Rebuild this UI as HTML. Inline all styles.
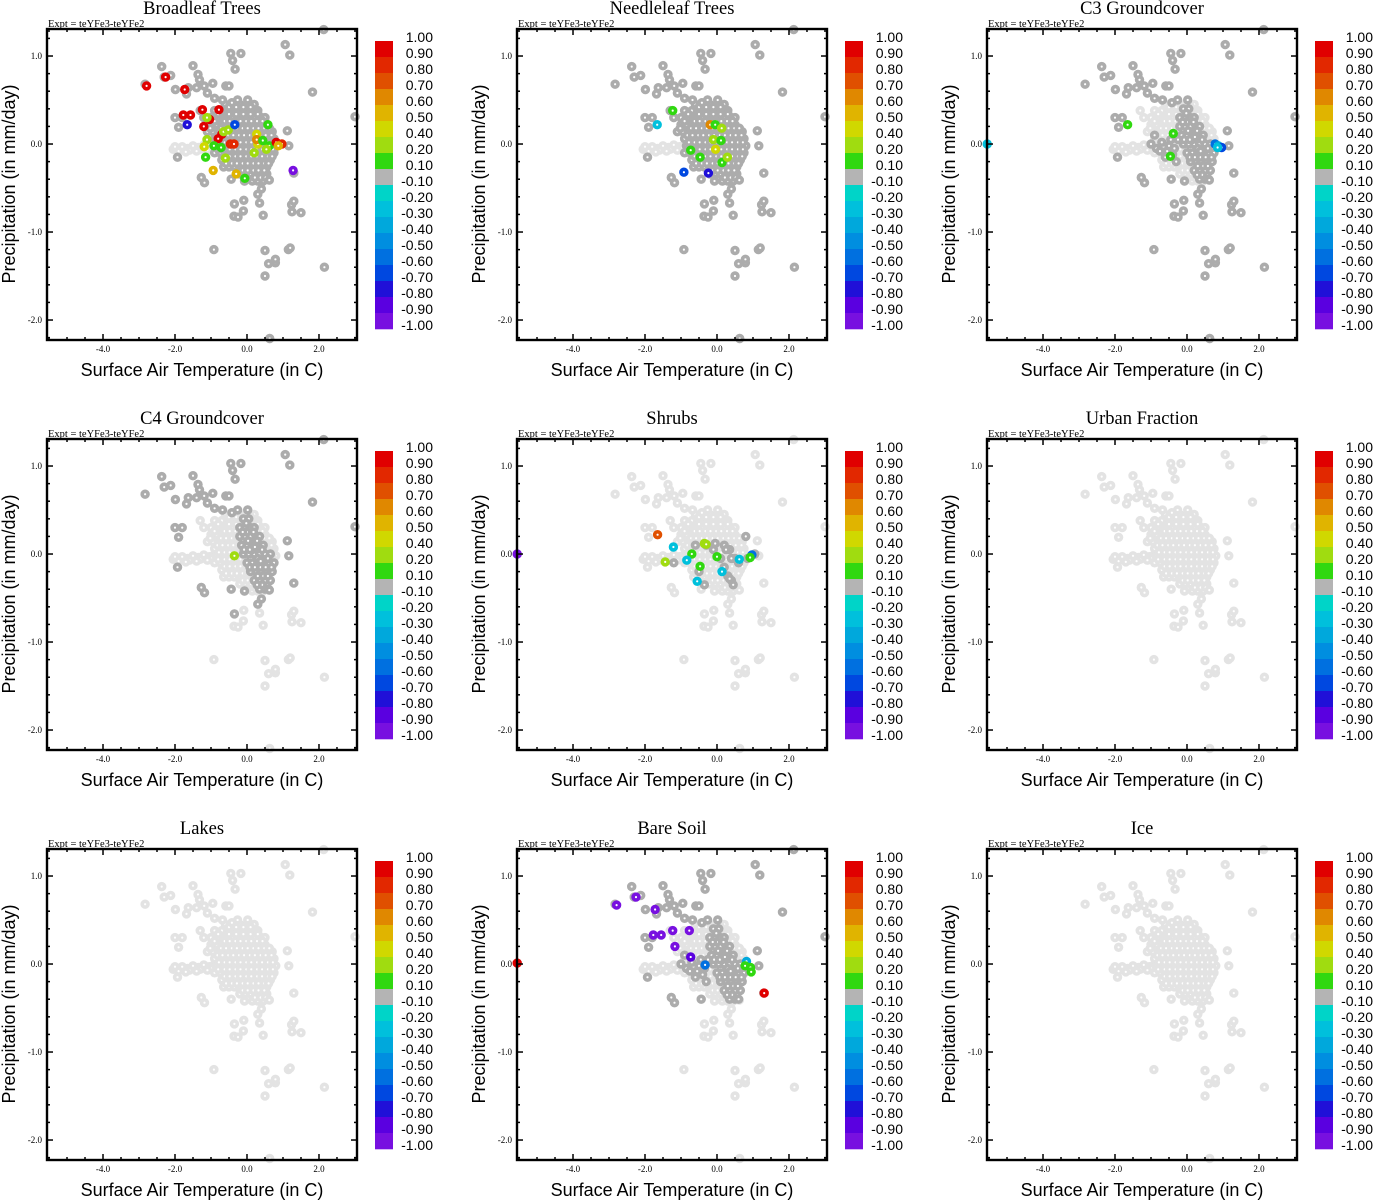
<!DOCTYPE html>
<html><head><meta charset="utf-8"><style>
body{margin:0;background:#fff;width:1373px;height:1200px;overflow:hidden}
svg{display:block}
</style></head><body>
<svg id="chart" width="1373" height="1200" xmlns="http://www.w3.org/2000/svg"></svg>
<script>
const panelTitles = ["Broadleaf Trees","Needleleaf Trees","C3 Groundcover","C4 Groundcover","Shrubs","Urban Fraction","Lakes","Bare Soil","Ice"];
const xTicks = [-4,-2,0,2];
const xTickLabels = ["-4.0","-2.0","0.0","2.0"];
const yTicks = [1,0,-1,-2];
const yTickLabels = ["1.0","0.0","-1.0","-2.0"];
const cbLabels = ["1.00","0.90","0.80","0.70","0.60","0.50","0.40","0.20","0.10","-0.10","-0.20","-0.30","-0.40","-0.50","-0.60","-0.70","-0.80","-0.90","-1.00"];
const cbEdges = [1.0,0.9,0.8,0.7,0.6,0.5,0.4,0.2,0.1,-0.1,-0.2,-0.3,-0.4,-0.5,-0.6,-0.7,-0.8,-0.9,-1.0];
const cbColors = ["#e00000","#e22800","#e05000","#e08800","#e0b400","#d0d800","#a0dc10","#30d810","#b4b4b4","#00d4c8","#00c0dc","#00a8dc","#008ee0","#0070e0","#0048e0","#2010d8","#5a00e0","#7810e0"];

const tailPoints = [[-2.05,-0.06],[-1.95,-0.06],[-1.85,-0.06],[-1.75,-0.06],[-1.65,-0.05],[-1.55,-0.05],[-1.45,-0.05],[-1.35,-0.04],[-1.25,-0.04],[-1.15,-0.03],[-1.05,-0.03],[-0.95,-0.02],[-1.9,-0.08],[-1.6,-0.07],[-1.3,-0.06],[-1.0,-0.05],[-2.0,-0.03],[-1.8,-0.03],[-1.5,-0.02],[-1.2,-0.01],[-1.7,-0.09],[-1.4,-0.08],[-1.1,-0.07]];
const blobPoints = [
[-0.6,0.45],[-0.4,0.45],[-0.2,0.45],[0.0,0.45],[0.2,0.45],
[-1.3,0.38],[-0.9,0.38],[-0.7,0.38],[-0.5,0.38],[-0.3,0.38],[-0.1,0.38],[0.1,0.38],[0.3,0.38],
[-1.2,0.3],[-1.0,0.3],[-0.8,0.3],[-0.6,0.3],[-0.4,0.3],[-0.2,0.3],[0.0,0.3],[0.2,0.3],[0.4,0.3],[0.5,0.3],
[-1.0,0.22],[-0.85,0.22],[-0.7,0.22],[-0.55,0.22],[-0.4,0.22],[-0.25,0.22],[-0.1,0.22],[0.05,0.22],[0.2,0.22],[0.35,0.22],[0.5,0.22],
[-1.1,0.14],[-0.95,0.14],[-0.8,0.14],[-0.65,0.14],[-0.5,0.14],[-0.35,0.14],[-0.2,0.14],[-0.05,0.14],[0.1,0.14],[0.25,0.14],[0.4,0.14],[0.55,0.14],[0.7,0.14],
[-0.9,0.06],[-0.75,0.06],[-0.6,0.06],[-0.45,0.06],[-0.3,0.06],[-0.15,0.06],[0.0,0.06],[0.15,0.06],[0.3,0.06],[0.45,0.06],[0.6,0.06],[0.75,0.06],
[-0.85,-0.02],[-0.7,-0.02],[-0.55,-0.02],[-0.4,-0.02],[-0.25,-0.02],[-0.1,-0.02],[0.05,-0.02],[0.2,-0.02],[0.35,-0.02],[0.5,-0.02],[0.65,-0.02],[0.8,-0.02],
[-0.9,-0.1],[-0.75,-0.1],[-0.6,-0.1],[-0.45,-0.1],[-0.3,-0.1],[-0.15,-0.1],[0.0,-0.1],[0.15,-0.1],[0.3,-0.1],[0.45,-0.1],[0.6,-0.1],[0.75,-0.1],
[-0.7,-0.18],[-0.55,-0.18],[-0.4,-0.18],[-0.25,-0.18],[-0.1,-0.18],[0.05,-0.18],[0.2,-0.18],[0.35,-0.18],[0.5,-0.18],[0.65,-0.18],
[-0.65,-0.26],[-0.5,-0.26],[-0.35,-0.26],[-0.2,-0.26],[-0.05,-0.26],[0.1,-0.26],[0.25,-0.26],[0.4,-0.26],[0.55,-0.26],
[-0.2,-0.34],[-0.05,-0.34],[0.1,-0.34],[0.25,-0.34],[0.4,-0.34],[0.55,-0.34],
[0.15,-0.42],[0.3,-0.42],[0.45,-0.42],
[-0.5,0.42],[-0.3,0.42],[-0.1,0.42],[0.1,0.42],[-0.8,0.34],[-0.5,0.34],[-0.3,0.34],[-0.1,0.34],[0.1,0.34],[0.3,0.34],
[-0.9,0.26],[-0.62,0.26],[-0.48,0.26],[-0.32,0.26],[-0.18,0.26],[-0.02,0.26],[0.12,0.26],[0.28,0.26],[0.43,0.26],
[-1.02,0.18],[-0.72,0.18],[-0.58,0.18],[-0.42,0.18],[-0.28,0.18],[-0.12,0.18],[0.02,0.18],[0.18,0.18],[0.32,0.18],[0.48,0.18],[0.62,0.18],
[-0.82,0.1],[-0.68,0.1],[-0.52,0.1],[-0.38,0.1],[-0.22,0.1],[-0.08,0.1],[0.08,0.1],[0.22,0.1],[0.38,0.1],[0.52,0.1],[0.68,0.1],
[-0.78,0.02],[-0.62,0.02],[-0.48,0.02],[-0.32,0.02],[-0.18,0.02],[-0.02,0.02],[0.12,0.02],[0.28,0.02],[0.42,0.02],[0.58,0.02],[0.72,0.02],
[-0.8,-0.06],[-0.62,-0.06],[-0.48,-0.06],[-0.32,-0.06],[-0.18,-0.06],[-0.02,-0.06],[0.12,-0.06],[0.28,-0.06],[0.42,-0.06],[0.58,-0.06],[0.72,-0.06],
[-0.62,-0.14],[-0.48,-0.14],[-0.32,-0.14],[-0.18,-0.14],[-0.02,-0.14],[0.12,-0.14],[0.28,-0.14],[0.42,-0.14],[0.58,-0.14],[0.7,-0.14],
[-0.58,-0.22],[-0.42,-0.22],[-0.28,-0.22],[-0.12,-0.22],[0.02,-0.22],[0.18,-0.22],[0.32,-0.22],[0.48,-0.22],[0.6,-0.22],
[-0.12,-0.3],[0.02,-0.3],[0.18,-0.3],[0.32,-0.3],[0.48,-0.3],[0.22,-0.38],[0.38,-0.38],[0.52,-0.38]];
const outPoints = [[1.06,1.13],[1.19,1.01],[-0.45,1.03],[-0.17,1.03],[-0.4,0.95],[-0.33,0.85],[-2.37,0.88],[-2.3,0.76],[-2.12,0.78],[-2.83,0.68],[-1.5,0.89],[-1.36,0.79],[-1.32,0.73],[-1.99,0.62],[-1.68,0.57],[-1.63,0.64],[-1.4,0.64],[-1.19,0.66],[-0.95,0.69],[-0.59,0.66],[-0.5,0.66],[-1.1,0.58],[-0.9,0.52],[-0.68,0.5],[-0.42,0.47],[-0.26,0.5],[0.02,0.5],[1.82,0.59],[2.13,1.3],[3.0,0.31],[-2.0,0.3],[-1.8,0.3],[-1.9,0.19],[1.12,0.15],[1.16,-0.02],[-1.93,-0.15],[1.3,-0.33],[-1.18,-0.44],[-1.27,-0.38],[-0.44,-0.4],[-0.07,-0.42],[0.62,-0.41],[0.3,-0.57],[0.4,-0.51],[-0.35,-0.68],[-0.09,-0.64],[0.35,-0.67],[-0.1,-0.76],[-0.36,-0.82],[-0.25,-0.83],[0.45,-0.81],[1.24,-0.69],[1.3,-0.65],[1.25,-0.77],[1.5,-0.78],[-0.92,-1.2],[0.5,-1.21],[1.15,-1.2],[1.2,-1.18],[0.6,-1.36],[0.79,-1.35],[0.79,-1.31],[2.15,-1.4],[0.5,-1.5],[0.63,-2.21]];
const corePoints = [[-0.1,0.4],[0.05,0.4],[-0.2,0.3],[-0.05,0.3],[0.1,0.3],[0.2,0.3],[-0.2,0.2],[-0.05,0.2],[0.1,0.2],[0.25,0.2],[0.35,0.2],[-0.15,0.1],[0.0,0.1],[0.15,0.1],[0.3,0.1],[0.45,0.1],[-0.1,0.0],[0.05,0.0],[0.2,0.0],[0.35,0.0],[0.5,0.0],[0.65,0.0],[0.0,-0.1],[0.15,-0.1],[0.3,-0.1],[0.45,-0.1],[0.6,-0.1],[0.75,-0.1],[0.1,-0.2],[0.25,-0.2],[0.4,-0.2],[0.55,-0.2],[0.7,-0.2],[0.2,-0.3],[0.35,-0.3],[0.5,-0.3],[0.65,-0.3],[0.35,-0.4],[0.5,-0.4],[0.6,-0.4],[0.0,0.25],[0.15,0.05],[0.3,-0.05],[0.45,-0.25],
[-0.02,0.35],[-0.12,0.25],[0.03,0.15],[0.18,0.25],[0.28,0.15],[-0.08,0.05],[0.08,0.05],[0.42,0.05],[0.58,-0.05],[0.08,-0.15],[0.22,-0.15],[0.38,-0.15],[0.52,-0.15],[0.68,-0.15],[0.3,-0.25],[0.58,-0.25],[0.42,-0.35],[0.28,-0.35],[0.22,0.08],[0.38,-0.08]];
const armPoints = [[-1.0,0.0],[-0.85,-0.05],[-0.7,0.02],[-0.55,-0.08],[-0.45,0.05],[-0.35,-0.05],[-0.6,-0.15],[-0.3,-0.2],[-0.9,0.1],[-0.25,0.05],[-0.5,-0.02],[-0.75,-0.08],[-0.4,-0.12]];
const shrubDark = [[-0.5,-0.2],[0.2,0.1],[0.35,0.05],[0.5,-0.05],[0.3,-0.25],[0.4,-0.3],[-0.1,0.05],[-0.6,0.1],[0.8,0.2],[1.05,0.0],[-1.2,-0.1],[0.6,-0.1],[0.2,-0.15],[-0.3,0.1],[0.1,-0.05],[0.45,-0.35],[0.85,-0.05],[-0.35,-0.35],[0.25,0.05],[0.4,-0.05],[0.35,-0.28],[-0.05,0.12]];

const broadleafColored = [[-2.79,0.66,0.95],[-2.26,0.76,0.95],[-1.73,0.62,0.95],[-1.77,0.33,0.95],[-1.57,0.33,0.9],[-1.66,0.22,-0.8],[-1.24,0.39,0.9],[-0.78,0.39,0.9],[-1.04,0.28,0.9],[-1.2,0.2,0.9],[-1.11,0.3,0.3],[-0.7,0.11,0.9],[-0.8,0.06,0.9],[-0.46,0.0,0.85],[-0.36,0.0,0.85],[-0.65,0.14,0.3],[-0.52,0.16,0.3],[-1.11,0.05,0.3],[-1.19,-0.03,0.45],[-0.92,-0.02,0.15],[-0.72,-0.04,0.15],[-1.15,-0.15,0.15],[-0.6,-0.16,0.3],[-0.94,-0.3,0.55],[-0.3,-0.34,0.55],[-0.06,-0.39,0.15],[0.27,0.11,0.45],[0.3,0.0,0.45],[0.27,0.05,0.65],[0.44,0.04,0.15],[0.58,0.22,0.15],[0.62,-0.02,0.15],[0.54,-0.06,0.3],[0.2,-0.1,0.3],[0.81,0.02,0.9],[0.97,0.0,0.85],[0.87,-0.02,0.55],[1.28,-0.3,-0.95],[-0.34,0.22,-0.65]];
const needleColored = [[-1.23,0.38,0.15],[-1.66,0.22,-0.25],[-0.19,0.22,0.65],[-0.05,0.22,0.15],[0.13,0.18,0.3],[-0.1,0.05,0.3],[0.11,0.04,0.15],[-0.04,-0.06,0.45],[-0.73,-0.07,0.15],[-0.47,-0.15,0.15],[0.14,-0.21,0.15],[0.29,-0.15,0.3],[-0.92,-0.32,-0.65],[-0.24,-0.33,-0.75]];
const c3Colored = [[-5.55,0.0,-0.25],[-1.65,0.22,0.15],[-0.38,0.12,0.15],[-0.46,-0.14,0.15],[0.78,0.0,-0.55],[0.87,-0.02,-0.35],[0.96,-0.04,-0.65],[0.85,-0.04,-0.25]];
const c4Colored = [[-0.35,-0.02,0.3]];
const shrubColored = [[-5.55,0.0,-0.95],[-1.65,0.22,0.75],[-1.21,0.08,-0.25],[-0.35,0.12,0.3],[-0.3,0.11,0.3],[-0.7,0.0,0.15],[-0.84,-0.07,-0.25],[-1.44,-0.09,0.3],[0.0,-0.03,0.15],[-0.47,-0.14,0.15],[0.14,-0.2,-0.25],[-0.55,-0.31,-0.25],[0.62,-0.06,-0.25],[0.97,-0.01,-0.55],[0.92,-0.04,0.15]];
const soilColored = [[-5.55,0.01,0.95],[-2.79,0.67,-0.95],[-2.25,0.76,-0.95],[-1.72,0.62,-0.95],[-1.77,0.33,-0.95],[-1.55,0.33,-0.95],[-1.23,0.38,-0.95],[-0.77,0.38,-0.95],[-1.17,0.2,-0.95],[-0.73,0.08,-0.9],[-0.33,-0.01,-0.55],[0.82,0.03,-0.35],[0.78,-0.02,0.15],[0.93,-0.04,0.15],[0.95,-0.09,0.15],[1.31,-0.33,0.95]];

const panelDark = [
  blobPoints.concat(outPoints),
  blobPoints.concat(outPoints),
  corePoints.concat(armPoints, outPoints),
  corePoints.concat(outPoints.slice(0,45)),
  shrubDark,
  [],
  [],
  corePoints.concat(armPoints, outPoints.slice(0,40)),
  []
];
const panelColored = [broadleafColored, needleColored, c3Colored, c4Colored, shrubColored, [], [], soilColored, []];

const NS = "http://www.w3.org/2000/svg";
const svg = document.getElementById("chart");
function mk(tag, attrs, parent){ const e=document.createElementNS(NS,tag); for(const k in attrs) e.setAttribute(k,attrs[k]); parent.appendChild(e); return e; }
const X0=-5.556, X1=3.056, Y0=-2.227, Y1=1.307;
const BW=310, BH=311;
function colorFor(v){ for(let i=0;i<cbColors.length;i++){ if(v<=cbEdges[i] && v>=cbEdges[i+1]) return cbColors[i]; } return cbColors[8]; }

panelTitles.forEach((title,p)=>{
  const ox=(p%3)*470, oy=Math.floor(p/3)*410;
  const g=mk("g",{transform:`translate(${ox},${oy})`},svg);
  
  
  const L=47, T=29;
  const sx=x=>L+(x-X0)/(X1-X0)*BW;
  const sy=y=>T+(Y1-y)/(Y1-Y0)*BH;
  const t=mk("text",{x:202,y:14,"text-anchor":"middle","font-family":"Liberation Serif, serif","font-size":"18.5",fill:"#000"},g);
  t.textContent=title;
  
  
  const ex=mk("text",{x:48,y:27,"font-family":"Liberation Serif, serif","font-size":"10.5",fill:"#000"},g);
  ex.textContent="Expt = teYFe3-teYFe2";
  
  
  const pts=mk("g",{},g);
  
  
  function dot(x,y,col,name){
    const c=mk("circle",{cx:sx(x).toFixed(1),cy:sy(y).toFixed(1),r:2.9,fill:"#fff",stroke:col,"stroke-width":3.6},pts);
    
    
  }
  tailPoints.concat(blobPoints,outPoints).forEach(d=>dot(d[0],d[1],"#e3e3e3",'base-point'));
  panelDark[p].forEach(d=>dot(d[0],d[1],"#acacac",'neutral-point'));
  panelColored[p].forEach(d=>dot(d[0],d[1],colorFor(d[2]),'colored-point'));
  const fr=mk("rect",{x:L,y:T,width:BW,height:BH,fill:"none",stroke:"#000","stroke-width":2.4},g);
  
  
  for(let v=-5.5; v<=3.0; v+=0.5){
    const major=Math.abs(v-Math.round(v/2)*2)<1e-6;
    const len=major?6:3;
    mk("line",{x1:sx(v),x2:sx(v),y1:T,y2:T+len,stroke:"#000","stroke-width":1.5},g);
    mk("line",{x1:sx(v),x2:sx(v),y1:T+BH,y2:T+BH-len,stroke:"#000","stroke-width":1.5},g);
  }
  for(let k=-22;k<=13;k+=2){
    const v=k/10; const major=(k%10===0);
    const len=major?6:3;
    mk("line",{x1:L,x2:L+len,y1:sy(v),y2:sy(v),stroke:"#000","stroke-width":1.5},g);
    mk("line",{x1:L+BW,x2:L+BW-len,y1:sy(v),y2:sy(v),stroke:"#000","stroke-width":1.5},g);
  }
  xTicks.forEach((v,i)=>{
    const tl=mk("text",{x:sx(v),y:T+BH+12,"text-anchor":"middle","font-family":"Liberation Serif, serif","font-size":"9",fill:"#000"},g);
    tl.textContent=xTickLabels[i];
    
    
  });
  yTicks.forEach((v,i)=>{
    const tl=mk("text",{x:L-5,y:sy(v)+3,"text-anchor":"end","font-family":"Liberation Serif, serif","font-size":"9",fill:"#000"},g);
    tl.textContent=yTickLabels[i];
    
    
  });
  const xl=mk("text",{x:202,y:376,"text-anchor":"middle","font-family":"Liberation Sans, sans-serif","font-size":"18",fill:"#000"},g);
  xl.textContent="Surface Air Temperature (in C)";
  
  
  const yl=mk("text",{x:0,y:0,transform:"translate(15,184) rotate(-90)","text-anchor":"middle","font-family":"Liberation Sans, sans-serif","font-size":"18",fill:"#000"},g);
  yl.textContent="Precipitation (in mm/day)";
  
  
  const cb=mk("g",{},g);
  
  
  cbColors.forEach((c,i)=>{
    const r=mk("rect",{x:375,y:41+i*16,width:18,height:16.3,fill:c},cb);
    
    
  });
  cbLabels.forEach((s,i)=>{
    const tl=mk("text",{x:433,y:42+i*16,"text-anchor":"end","font-family":"Liberation Sans, sans-serif","font-size":"14",fill:"#000"},cb);
    tl.textContent=s;
    
    
  });
});
</script>
</body></html>
